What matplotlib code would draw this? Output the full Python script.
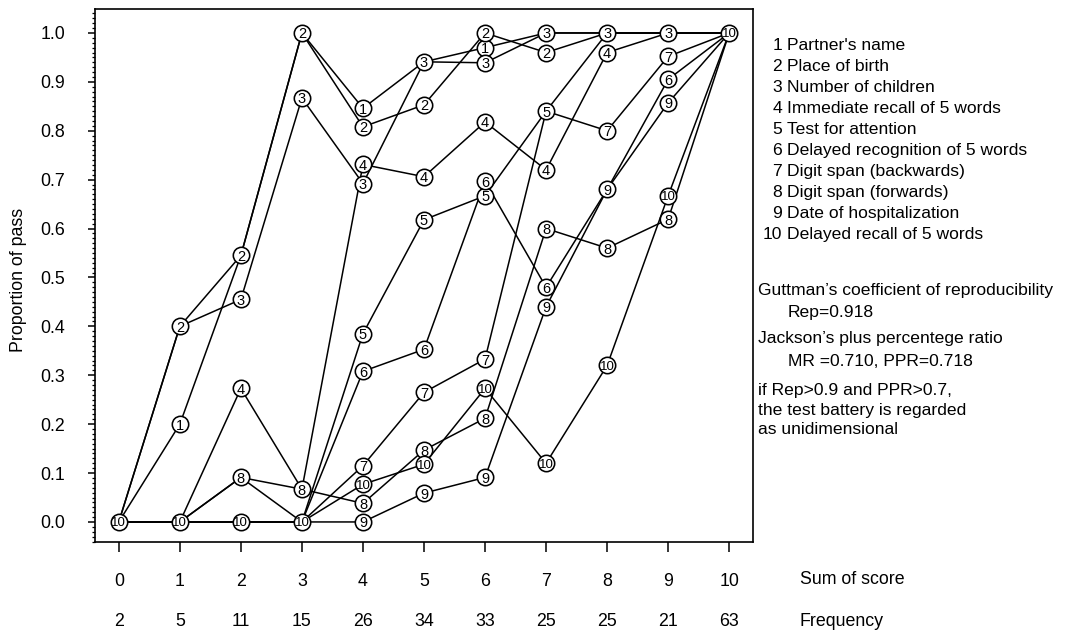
import matplotlib
matplotlib.use("Agg")
import matplotlib.pyplot as plt
from matplotlib.ticker import MultipleLocator

plt.rcParams["font.family"] = ["Liberation Sans", "DejaVu Sans"]

# Sum of score (x) and number of patients at each score
scores = [0, 1, 2, 3, 4, 5, 6, 7, 8, 9, 10]
frequency = [2, 5, 11, 15, 26, 34, 33, 25, 25, 21, 63]

items = [
    "Partner's name",
    "Place of birth",
    "Number of children",
    "Immediate recall of 5 words",
    "Test for attention",
    "Delayed recognition of 5 words",
    "Digit span (backwards)",
    "Digit span (forwards)",
    "Date of hospitalization",
    "Delayed recall of 5 words",
]

# Proportion of patients passing each item, by sum of score
item1 = [0, 0.200, 0.545, 1.000, 0.846, 0.941, 0.970, 1.000, 1.000, 1.000, 1.0]
item2 = [0, 0.400, 0.545, 1.000, 0.808, 0.853, 1.000, 0.960, 1.000, 1.000, 1.0]
item3 = [0, 0.400, 0.455, 0.867, 0.692, 0.941, 0.939, 1.000, 1.000, 1.000, 1.0]
item4 = [0, 0.000, 0.273, 0.067, 0.731, 0.706, 0.818, 0.720, 0.960, 1.000, 1.0]
item5 = [0, 0.000, 0.000, 0.000, 0.385, 0.618, 0.667, 0.840, 1.000, 1.000, 1.0]
item6 = [0, 0.000, 0.000, 0.000, 0.308, 0.353, 0.697, 0.480, 0.680, 0.905, 1.0]
item7 = [0, 0.000, 0.091, 0.000, 0.115, 0.265, 0.333, 0.840, 0.800, 0.952, 1.0]
item8 = [0, 0.000, 0.091, 0.067, 0.038, 0.147, 0.212, 0.600, 0.560, 0.619, 1.0]
item9 = [0, 0.000, 0.000, 0.000, 0.000, 0.059, 0.091, 0.440, 0.680, 0.857, 1.0]
item10 = [0, 0.000, 0.000, 0.000, 0.077, 0.118, 0.273, 0.120, 0.320, 0.667, 1.0]
proportions = [item1, item2, item3, item4, item5, item6, item7, item8, item9, item10]

# (item, score) markers whose number is printed over coinciding markers
front_marks = {(2, 1), (5, 7), (3, 8), (3, 9)}

W, H = 1075, 634
fig = plt.figure(figsize=(W / 100, H / 100), dpi=100)
ax = fig.add_axes([95 / W, 1 - 542 / H, (753 - 95) / W, (542 - 9) / H])

ax.set_xlim(-0.39, 10.39)
ax.set_ylim(-0.041, 1.049)

# Connecting lines
for vals in proportions:
    ax.plot(scores, vals, color="black", lw=1.1, zorder=2,
            solid_joinstyle="round")

# Where several items share a point, only the front number is printed
front = {}
for k, vals in enumerate(proportions, start=1):
    for s, v in zip(scores, vals):
        rank = k + (100 if (k, s) in front_marks else 0)
        if (s, v) not in front or rank > front[(s, v)]:
            front[(s, v)] = rank

# Numbered circle markers
for (s, v), rank in front.items():
    k = rank % 100
    z = 10 + 2 * rank
    ax.plot(s, v, marker="o", ms=11.8, mfc="white", mec="black",
            mew=1.15, zorder=z, clip_on=False)
    ax.text(s, v, str(k), ha="center", va="center_baseline",
            fontsize=10.5 if k < 10 else 9.5, zorder=z + 1)

# Axes styling
for sp in ax.spines.values():
    sp.set_linewidth(1.2)
ax.set_xticks(scores)
ax.set_xticklabels([str(s) for s in scores])
ax.yaxis.set_major_locator(MultipleLocator(0.1))
ax.yaxis.set_minor_locator(MultipleLocator(0.01))
ax.yaxis.set_major_formatter(plt.FuncFormatter(lambda v, _: f"{v:.1f}"))
ax.tick_params(axis="x", direction="out", length=7, width=1.1, pad=15,
               labelsize=12.8)
ax.tick_params(axis="y", which="major", direction="out", length=5,
               width=1.1, pad=16.5, labelsize=12.8)
ax.tick_params(axis="y", which="minor", direction="out", length=2.5,
               width=0.9)

ax.set_ylabel("Proportion of pass", fontsize=12.8, va="center")
ax.yaxis.set_label_coords((18 - 95) / 658, (542 - 280) / 533)

# Row labels under the axis
ax.text((800 - 95) / 658, (542 - 580) / 533, "Sum of score",
        transform=ax.transAxes, ha="left", va="center", fontsize=12.8)
for s, f in zip(scores, frequency):
    ax.text(s, (542 - 621) / 533, str(f), transform=ax.get_xaxis_transform(),
            ha="center", va="center", fontsize=12.8)
ax.text((800 - 95) / 658, (542 - 621) / 533, "Frequency",
        transform=ax.transAxes, ha="left", va="center", fontsize=12.8)

# Item key
for i, name in enumerate(items):
    y = 1 - (45 + 21.1 * i) / H
    fig.text(782 / W, y, str(i + 1), ha="right", va="center", fontsize=12.6)
    fig.text(787 / W, y, name, ha="left", va="center", fontsize=12.6)

# Scalability statistics
notes = [
    (758, 291, "Guttman\u2019s coefficient of reproducibility"),
    (788, 313, "Rep=0.918"),
    (758, 339, "Jackson\u2019s plus percentege ratio"),
    (788, 361, "MR =0.710, PPR=0.718"),
    (758, 391, "if Rep>0.9 and PPR>0.7,"),
    (758, 410, "the test battery is regarded"),
    (758, 429, "as unidimensional"),
]
for x, y, t in notes:
    fig.text(x / W, 1 - y / H, t, ha="left", va="center", fontsize=12.6)

fig.savefig("out.png", dpi=100, facecolor="white")
